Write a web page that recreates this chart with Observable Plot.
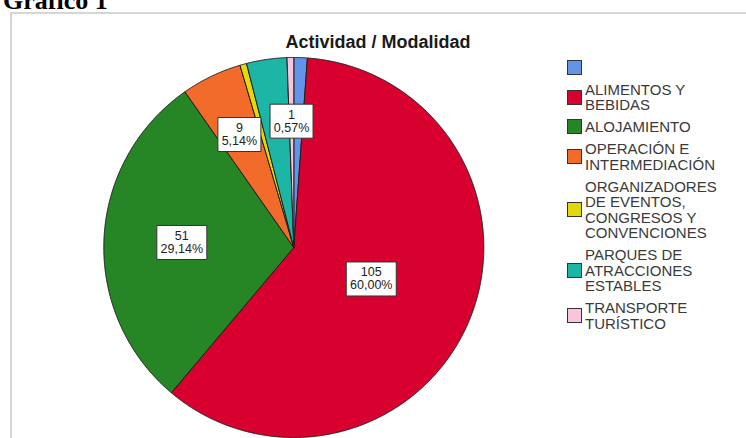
<!DOCTYPE html>
<html><head><meta charset="utf-8">
<script src="https://cdn.jsdelivr.net/npm/d3@7"></script>
<script src="https://cdn.jsdelivr.net/npm/@observablehq/plot@0.6"></script>
<style>
body{margin:0;background:#fff;}
#wrap{position:relative;width:746px;height:438px;overflow:hidden;font-family:"Liberation Sans",Arial,sans-serif;}
#chart{position:absolute;left:0;top:0;}
#fig{position:absolute;left:3px;top:-12px;font:bold 26px "Liberation Serif","Times New Roman",serif;line-height:26px;color:#000;white-space:nowrap;}
#frame{position:absolute;left:10px;top:12px;width:800px;height:500px;border:2px solid #d6d6d6;}
#title{position:absolute;left:278px;width:200px;top:32px;text-align:center;font-weight:bold;font-size:18px;line-height:20px;color:#1a1a1a;white-space:nowrap;}
#legend{position:absolute;left:567px;top:59.5px;display:flex;flex-direction:column;gap:6.5px;}
.item{display:flex;align-items:center;}
.sw{width:15px;height:15px;box-sizing:border-box;border:1px solid #333;margin-right:3px;flex:none;}
.lab{font-size:15px;line-height:15.5px;color:#3a3a3a;white-space:pre-line;min-height:15.5px;}
</style></head>
<body>
<div id="wrap">
  <div id="chart"></div>
  <div id="fig">Gráfico 1</div>
  <div id="frame"></div>
  <div id="title">Actividad / Modalidad</div>
  <div id="legend"></div>
</div>
<script>
// ---- data ----
const categories = ["", "ALIMENTOS Y BEBIDAS", "ALOJAMIENTO", "OPERACIÓN E INTERMEDIACIÓN", "ORGANIZADORES DE EVENTOS, CONGRESOS Y CONVENCIONES", "PARQUES DE ATRACCIONES ESTABLES", "TRANSPORTE TURÍSTICO"];
const legendLines = ["", "ALIMENTOS Y\nBEBIDAS", "ALOJAMIENTO", "OPERACIÓN E\nINTERMEDIACIÓN", "ORGANIZADORES\nDE EVENTOS,\nCONGRESOS Y\nCONVENCIONES", "PARQUES DE\nATRACCIONES\nESTABLES", "TRANSPORTE\nTURÍSTICO"];
const counts = [2, 105, 51, 9, 1, 6, 1];
const colors = ["#6394e8", "#d7002f", "#268626", "#f26b2b", "#e4d80a", "#1cb5a6", "#f9c4dc"];
const labeled = [false, true, true, true, false, false, true];

// ---- layout ----
const labelRadius = [0.6, 0.44, 0.59, 0.66, 0.66, 0.66, 0.665];

const total = d3.sum(counts);
const slices = [];
const labels = [];
let acc = 0;
counts.forEach((v, i) => {
  const a0 = acc / total * 2 * Math.PI;
  acc += v;
  const a1 = acc / total * 2 * Math.PI;
  const n = Math.max(2, Math.ceil((a1 - a0) / (Math.PI / 720)));
  slices.push({cat: categories[i], color: colors[i], x: 0, y: 0});
  for (let j = 0; j <= n; j++) {
    const a = a0 + (a1 - a0) * j / n;
    slices.push({cat: categories[i], color: colors[i], x: Math.sin(a), y: Math.cos(a)});
  }
  slices.push({cat: categories[i], color: colors[i], x: 0, y: 0});
  if (labeled[i]) {
    const m = (a0 + a1) / 2, r = labelRadius[i];
    const pct = (v / total * 100).toFixed(2).replace(".", ",") + "%";
    labels.push({x: r * Math.sin(m), y: r * Math.cos(m), count: String(v), pct, w: 8 + Math.max(String(v).length, pct.length) * 7});
  }
});

const boxSymbol = (w, h) => ({draw(ctx) { ctx.rect(-w / 2, -h / 2, w, h); }});

const W = 746, H = 438;
const cx = 293.3, cy = 247, R = 190;
const chart = Plot.plot({
  width: W, height: H,
  marginLeft: cx - R, marginRight: W - (cx + R),
  marginTop: cy - R, marginBottom: H - (cy + R),
  x: {domain: [-1, 1], axis: null},
  y: {domain: [-1, 1], axis: null},
  color: {type: "identity"},
  style: {background: "transparent", overflow: "visible"},
  marks: [
    Plot.line(slices, {x: "x", y: "y", z: "cat", fill: "color", stroke: "#1e1e1e", strokeWidth: 1, curve: "linear", strokeLinejoin: "round"}),
    ...labels.map(l => Plot.dot([l], {x: "x", y: "y", symbol: boxSymbol(l.w, 34), fill: "white", stroke: "#333", strokeWidth: 1})),
    Plot.text(labels, {x: "x", y: "y", text: "count", dy: -6.5, fontSize: 12.5, fill: "#222", fontFamily: "Liberation Sans, Arial, sans-serif"}),
    Plot.text(labels, {x: "x", y: "y", text: "pct", dy: 6.5, fontSize: 12.5, fill: "#222", fontFamily: "Liberation Sans, Arial, sans-serif"})
  ]
});
document.getElementById("chart").appendChild(chart);

const legend = document.getElementById("legend");
categories.forEach((c, i) => {
  const item = document.createElement("div");
  item.className = "item";
  const sw = document.createElement("div");
  sw.className = "sw";
  sw.style.background = colors[i];
  const lab = document.createElement("div");
  lab.className = "lab";
  lab.textContent = legendLines[i];
  item.appendChild(sw); item.appendChild(lab);
  legend.appendChild(item);
});
</script>
</body></html>
